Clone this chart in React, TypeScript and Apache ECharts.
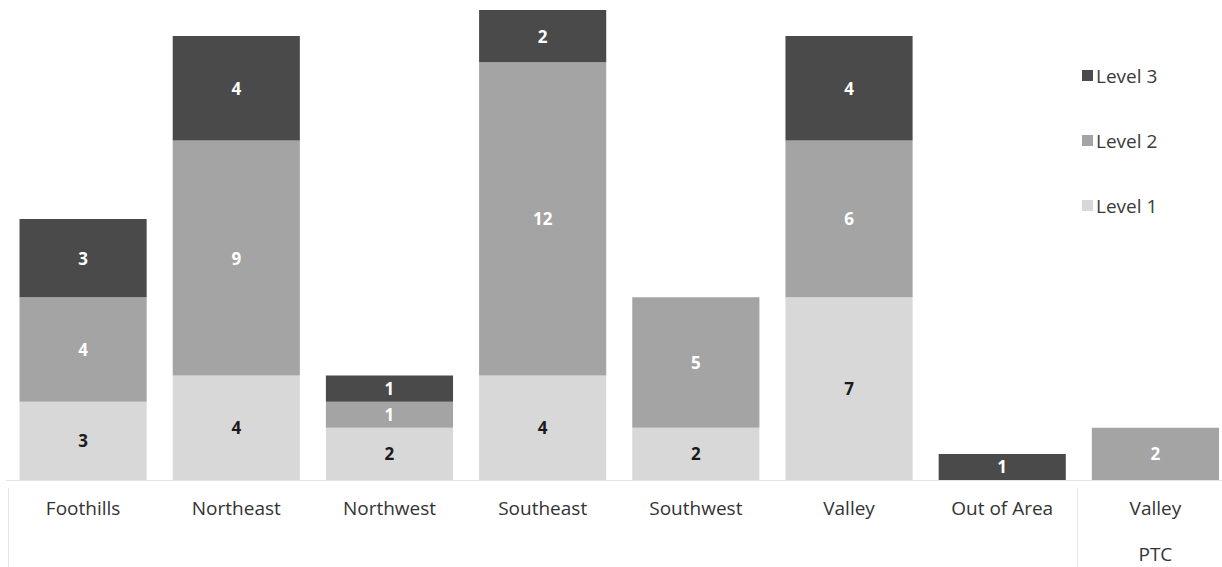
import React, { useEffect, useRef } from "react";
import * as echarts from "echarts";

const categories = ["Foothills", "Northeast", "Northwest", "Southeast", "Southwest", "Valley", "Out of Area", "Valley\nPTC"];
const level1 = [3, 4, 2, 4, 2, 7, null, null];
const level2 = [4, 9, 1, 12, 5, 6, null, 2];
const level3 = [3, 4, 1, 2, null, 4, 1, null];
const seriesNames = ["Level 1", "Level 2", "Level 3"];

export default function App() {
  const ref = useRef<HTMLDivElement>(null);
  useEffect(() => {
    const chart = echarts.init(ref.current!, null, { renderer: "svg" });
    const font = "'Open Sans', 'Noto Sans', sans-serif";
    const mk = (name: string, data: any[], color: string, labelColor: string) => ({
      name,
      type: "bar",
      stack: "total",
      data,
      barCategoryGap: "17%",
      itemStyle: { color },
      label: {
        show: true,
        position: "inside",
        color: labelColor,
        fontWeight: "bold",
        fontSize: 17,
        fontFamily: font,
        formatter: (p: any) => (p.value == null ? "" : String(p.value)),
      },
    });
    chart.setOption({
      animation: false,
      backgroundColor: "#ffffff",
      grid: { left: 6.5, right: 0, top: 10, height: 470, containLabel: false, outerBoundsMode: "none" },
      legend: {
        data: ["Level 3", "Level 2", "Level 1"],
        orient: "vertical",
        left: 1077,
        top: 61,
        itemWidth: 11,
        itemHeight: 11,
        itemGap: 46,
        icon: "rect",
        textStyle: { fontSize: 19, color: "#3a3a3a", fontFamily: font, padding: [0, 0, 0, -2] },
      },
      xAxis: {
        type: "category",
        data: categories,
        axisLine: { show: true, lineStyle: { color: "#e6e6e6" } },
        axisTick: { show: false },
        axisLabel: {
          color: "#333333",
          fontSize: 19,
          fontFamily: font,
          margin: 5,
          lineHeight: 46,
          verticalAlign: "top",
        },
      },
      yAxis: { type: "value", min: 0, max: 18, show: false },
      graphic: [
        { type: "line", shape: { x1: 8.5, y1: 488, x2: 8.5, y2: 567 }, style: { stroke: "#e6e6e6", lineWidth: 1 } },
        { type: "line", shape: { x1: 1077.5, y1: 488, x2: 1077.5, y2: 567 }, style: { stroke: "#e6e6e6", lineWidth: 1 } },
      ],
      series: [
        mk(seriesNames[0], level1, "#d8d8d8", "#1a1a1a"),
        mk(seriesNames[1], level2, "#a4a4a4", "#ffffff"),
        mk(seriesNames[2], level3, "#4a4a4a", "#ffffff"),
      ],
    });
    return () => chart.dispose();
  }, []);
  return (
    <div style={{ width: 1222, height: 567, position: "absolute", left: 0, top: 0, overflow: "hidden", background: "#fff" }}>
      <div ref={ref} style={{ width: 1232, height: 567 }} />
    </div>
  );
}
